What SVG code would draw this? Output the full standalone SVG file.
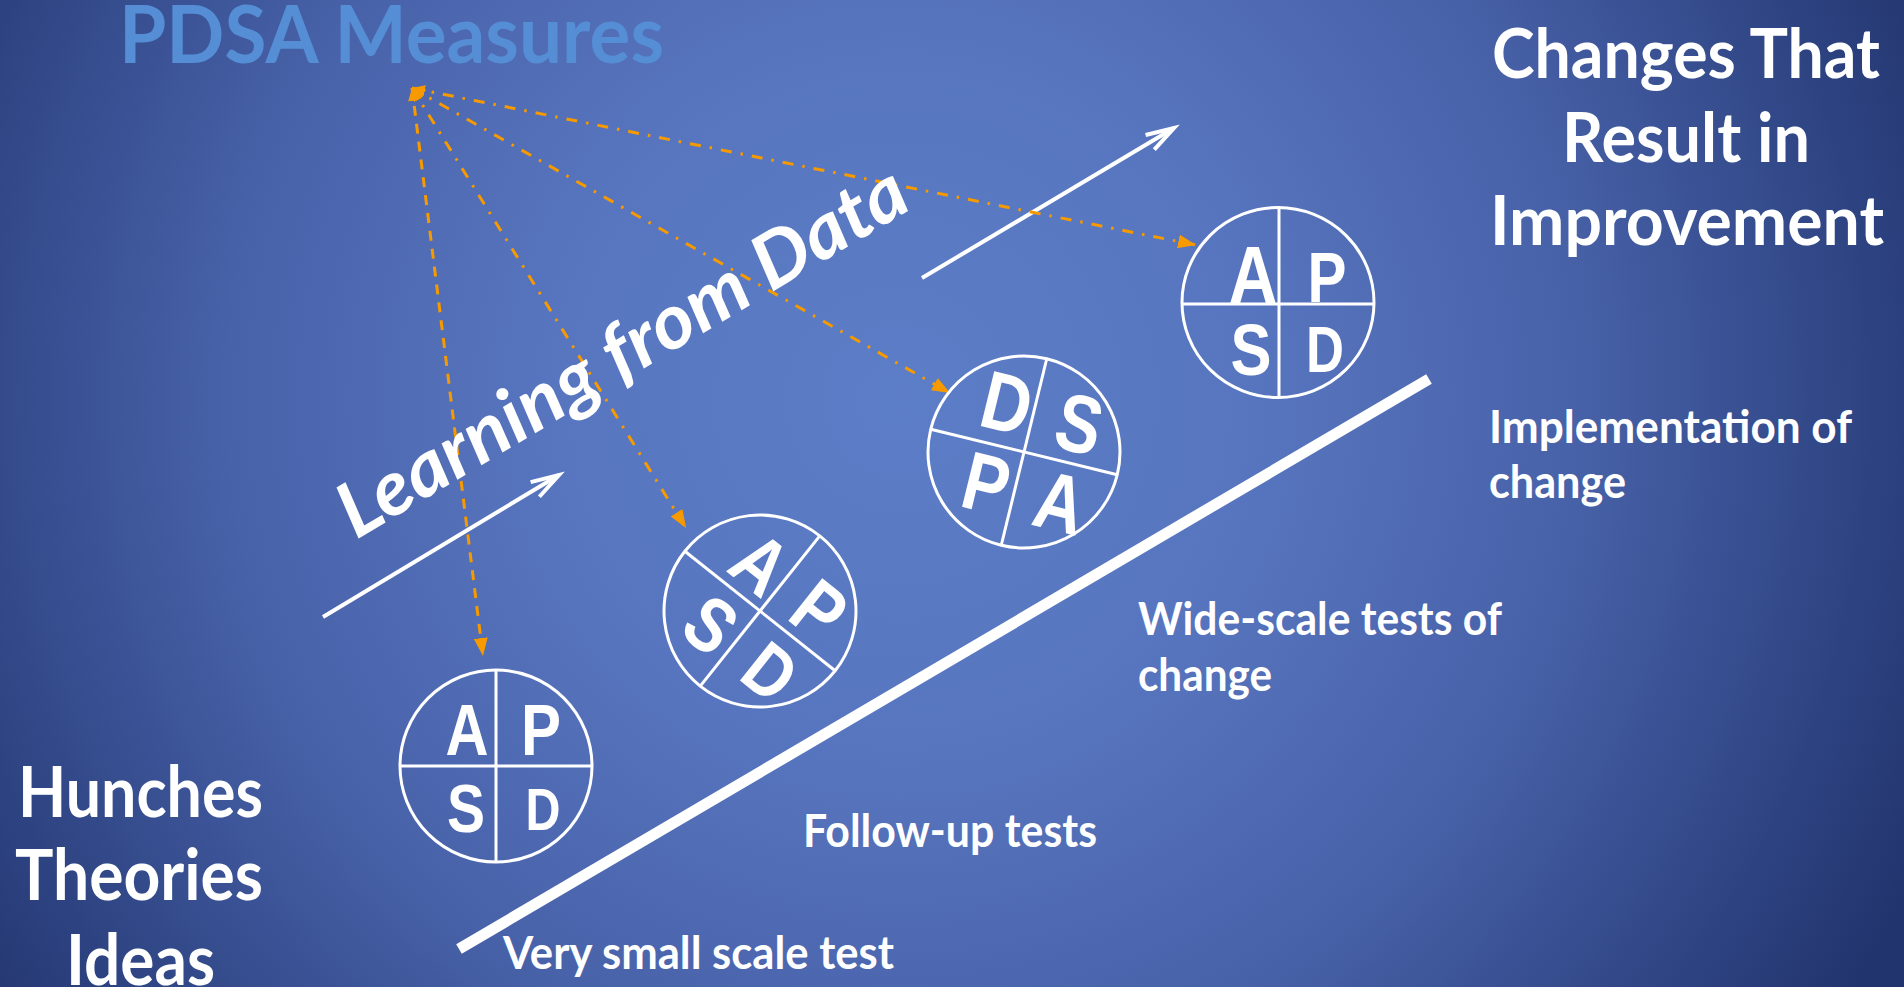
<svg xmlns="http://www.w3.org/2000/svg" width="1904" height="987" viewBox="0 0 1904 987">
<defs>
<radialGradient id="bg" gradientUnits="userSpaceOnUse" cx="900" cy="400" r="1120">
<stop offset="0" stop-color="#5C7DC7"/>
<stop offset="0.3" stop-color="#5876C0"/>
<stop offset="0.6" stop-color="#4862A9"/>
<stop offset="0.85" stop-color="#2F4584"/>
<stop offset="1" stop-color="#22346E"/>
</radialGradient>
<marker id="oh" markerUnits="userSpaceOnUse" markerWidth="18" markerHeight="14" refX="18" refY="7" orient="auto" viewBox="0 0 18 14">
<path d="M0,0 L18,7 L0,14 Z" fill="#F79A00"/>
</marker>
<marker id="os" markerUnits="userSpaceOnUse" markerWidth="13" markerHeight="11" refX="13" refY="5.5" orient="auto-start-reverse" viewBox="0 0 13 11">
<path d="M0,0 L13,5.5 L0,11 Z" fill="#F79A00"/>
</marker>
<marker id="wh" markerUnits="userSpaceOnUse" markerWidth="40" markerHeight="24" refX="32" refY="12" orient="auto" viewBox="0 0 40 24">
<path d="M4,3.5 L32,12 L4,20.5" fill="none" stroke="#FFFFFF" stroke-width="4" stroke-linecap="butt" stroke-linejoin="miter"/>
</marker>
</defs>
<style>
.lbl{font-family:"Lato","Open Sans",sans-serif;font-weight:bold;fill:#FFFFFF;}
.ring{fill:none;stroke:#FFFFFF;stroke-width:3;}
.div{stroke:#FFFFFF;stroke-width:3;}
.let{font-family:"Liberation Sans",Arial,sans-serif;font-weight:bold;fill:#FFFFFF;text-anchor:middle;}
.orange{fill:none;stroke:#F79A00;stroke-width:3;}
.dash{stroke-dasharray:10 8;}
.dashdot{stroke-dasharray:11 9 2.5 9;}
.white{fill:none;stroke:#FFFFFF;stroke-width:4;}
</style>
<rect x="0" y="0" width="1904" height="987" fill="url(#bg)"/>

<g id="connectors">
<line x1="459" y1="949" x2="1429" y2="379" stroke="#FFFFFF" stroke-width="11"/>
<line class="white" x1="323" y1="617" x2="559" y2="475" marker-end="url(#wh)"/>
<line class="white" x1="922" y1="278" x2="1174" y2="128" marker-end="url(#wh)"/>
<line class="orange dash" x1="412" y1="88" x2="483" y2="656" marker-start="url(#os)" marker-end="url(#oh)"/>
<line class="orange dashdot" x1="412" y1="88" x2="686" y2="528" marker-start="url(#os)" marker-end="url(#oh)"/>
<line class="orange dashdot" x1="412" y1="88" x2="950" y2="393" marker-start="url(#os)" marker-end="url(#oh)"/>
<line class="orange dashdot" x1="412" y1="88" x2="1196" y2="245" marker-start="url(#os)" marker-end="url(#oh)"/>
</g>

<g id="title-pdsa">
<text class="lbl" x="119" y="63" font-size="80" style="fill:#558ED5" textLength="545" lengthAdjust="spacingAndGlyphs">PDSA Measures</text>
</g>

<g id="title-changes">
<text class="lbl" x="1492" y="78" font-size="68" textLength="388" lengthAdjust="spacingAndGlyphs">Changes That</text>
<text class="lbl" x="1562" y="162" font-size="68" textLength="248" lengthAdjust="spacingAndGlyphs">Result in</text>
<text class="lbl" x="1490" y="245" font-size="68" textLength="394" lengthAdjust="spacingAndGlyphs">Improvement</text>
</g>

<g id="learning">
<text class="lbl" x="356" y="540" font-size="76" font-style="italic" transform="rotate(-30.8 356 540)" textLength="650" lengthAdjust="spacingAndGlyphs">Learning from Data</text>
</g>

<g id="label-implementation">
<text class="lbl" x="1489" y="443" font-size="45" textLength="363" lengthAdjust="spacingAndGlyphs">Implementation of</text>
<text class="lbl" x="1489" y="498" font-size="45" textLength="137" lengthAdjust="spacingAndGlyphs">change</text>
</g>

<g id="label-widescale">
<text class="lbl" x="1138" y="635" font-size="45" textLength="364" lengthAdjust="spacingAndGlyphs">Wide-scale tests of</text>
<text class="lbl" x="1138" y="691" font-size="45" textLength="134" lengthAdjust="spacingAndGlyphs">change</text>
</g>

<g id="label-followup">
<text class="lbl" x="803" y="847" font-size="45" textLength="294" lengthAdjust="spacingAndGlyphs">Follow-up tests</text>
</g>

<g id="label-verysmall">
<text class="lbl" x="503" y="969" font-size="45" textLength="391" lengthAdjust="spacingAndGlyphs">Very small scale test</text>
</g>

<g id="label-hunches">
<text class="lbl" x="18" y="817" font-size="70" textLength="245" lengthAdjust="spacingAndGlyphs">Hunches</text>
<text class="lbl" x="15" y="900" font-size="70" textLength="248" lengthAdjust="spacingAndGlyphs">Theories</text>
<text class="lbl" x="66" y="985" font-size="70" textLength="149" lengthAdjust="spacingAndGlyphs">Ideas</text>
</g>

<g id="cycle-1">
<circle class="ring" cx="496" cy="766" r="96"/>
<line class="div" x1="496" y1="670" x2="496" y2="862"/>
<line class="div" x1="400" y1="766" x2="592" y2="766"/>
<text class="let" x="467" y="755" font-size="72" textLength="43" lengthAdjust="spacingAndGlyphs">A</text>
<text class="let" x="541" y="755" font-size="72" textLength="40" lengthAdjust="spacingAndGlyphs">P</text>
<text class="let" x="466" y="832" font-size="68" textLength="38" lengthAdjust="spacingAndGlyphs">S</text>
<text class="let" x="543" y="830" font-size="59" textLength="35" lengthAdjust="spacingAndGlyphs">D</text>
</g>

<g id="cycle-2" transform="rotate(38.5 760 611)">
<circle class="ring" cx="760" cy="611" r="96"/>
<line class="div" x1="760" y1="515" x2="760" y2="707"/>
<line class="div" x1="664" y1="611" x2="856" y2="611"/>
<text class="let" x="731" y="601" font-size="79" textLength="48" lengthAdjust="spacingAndGlyphs">A</text>
<text class="let" x="806" y="601" font-size="79" textLength="44" lengthAdjust="spacingAndGlyphs">P</text>
<text class="let" x="730" y="679" font-size="77" textLength="43" lengthAdjust="spacingAndGlyphs">S</text>
<text class="let" x="806" y="678" font-size="74" textLength="45" lengthAdjust="spacingAndGlyphs">D</text>
</g>

<g id="cycle-3" transform="rotate(13.7 1024 452)">
<circle class="ring" cx="1024" cy="452" r="96"/>
<line class="div" x1="1024" y1="356" x2="1024" y2="548"/>
<line class="div" x1="928" y1="452" x2="1120" y2="452"/>
<text class="let" x="996" y="437" font-size="82" textLength="49" lengthAdjust="spacingAndGlyphs">D</text>
<text class="let" x="1071" y="440" font-size="82" textLength="45" lengthAdjust="spacingAndGlyphs">S</text>
<text class="let" x="995" y="520" font-size="82" textLength="45" lengthAdjust="spacingAndGlyphs">P</text>
<text class="let" x="1071" y="521" font-size="82" textLength="49" lengthAdjust="spacingAndGlyphs">A</text>
</g>

<g id="cycle-4">
<ellipse class="ring" cx="1278" cy="302.5" rx="96" ry="95"/>
<line class="div" x1="1279" y1="208" x2="1279" y2="397"/>
<line class="div" x1="1182" y1="304" x2="1374" y2="304"/>
<text class="let" x="1253" y="303" font-size="81" textLength="49" lengthAdjust="spacingAndGlyphs">A</text>
<text class="let" x="1327" y="302" font-size="71" textLength="39" lengthAdjust="spacingAndGlyphs">P</text>
<text class="let" x="1251" y="375" font-size="73" textLength="41" lengthAdjust="spacingAndGlyphs">S</text>
<text class="let" x="1325" y="372" font-size="64" textLength="38" lengthAdjust="spacingAndGlyphs">D</text>
</g>
</svg>
